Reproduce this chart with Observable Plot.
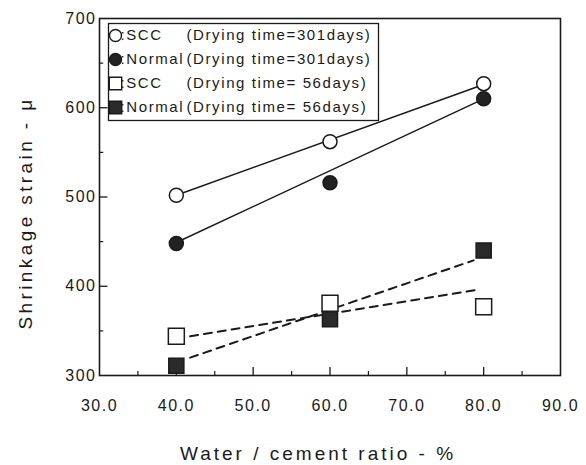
<!DOCTYPE html>
<html><head><meta charset="utf-8">
<script src="https://cdn.jsdelivr.net/npm/d3@7"></script>
<script src="https://cdn.jsdelivr.net/npm/@observablehq/plot@0.6"></script>
<style>
body{margin:0;background:#fff}
#chart{width:586px;height:465px}
</style>
</head><body><div id="chart"></div>
<script>
// Water/cement ratio (%)
const wcRatio = [40, 60, 80];
// Shrinkage strain (μ)
const scc301 = [502, 562, 627];
const normal301 = [448, 516, 610];
const scc56 = [344, 381, 377];
const normal56 = [311, 363, 440];
// fitted trend lines: [x, y] end points
const scc301Fit = [[40, 502], [80, 626]];
const normal301Fit = [[40, 449], [80, 610]];
const scc56Fit = [[41.8, 344], [79.2, 396]];
const normal56Fit = [[41.8, 320], [78.7, 429]];
// ticks
const xTicks = [30, 40, 50, 60, 70, 80, 90];
const xMinor = [35, 45, 55, 65, 75, 85];
const yTicks = [300, 400, 500, 600, 700];
const yMinor = [350, 450, 550, 650];
// legend
const legendLabels = [":SCC", ":Normal", ":SCC", ":Normal"];
const legendNotes = ["(Drying time=301days)", "(Drying time=301days)", "(Drying time= 56days)", "(Drying time= 56days)"];
const xTitle = "Water / cement ratio - %";
const yTitle = "Shrinkage strain - μ";

const ink = "#1a1a1a";
const series = [
  {vals: scc301, fit: scc301Fit, symbol: "circle", fill: "white", r: 7, lr: 6, dash: null},
  {vals: normal301, fit: normal301Fit, symbol: "circle", fill: "#222", r: 7, lr: 6, dash: null},
  {vals: scc56, fit: scc56Fit, symbol: "square", fill: "white", r: 9, lr: 7, dash: "8,6"},
  {vals: normal56, fit: normal56Fit, symbol: "square", fill: "#2a2a2a", r: 8.5, lr: 7, dash: "8,6"}
];

const marks = [];
// inward ticks
marks.push(Plot.ruleX(xTicks.slice(1, -1), {x: d => d, y1: 300, y2: 309, stroke: ink, strokeWidth: 1.3}));
marks.push(Plot.ruleX(xMinor, {x: d => d, y1: 300, y2: 304.5, stroke: ink, strokeWidth: 1.2}));
marks.push(Plot.ruleY(yTicks.slice(1, -1), {y: d => d, x1: 30, x2: 31.1, stroke: ink, strokeWidth: 1.3}));
marks.push(Plot.ruleY(yMinor, {y: d => d, x1: 30, x2: 30.55, stroke: ink, strokeWidth: 1.2}));

// trend lines
series.forEach(s => {
  marks.push(Plot.line(s.fit, {x: d => d[0], y: d => d[1], stroke: ink,
    strokeWidth: s.dash ? 2 : 1.5, strokeDasharray: s.dash}));
});
// points
series.forEach(s => {
  const pts = wcRatio.map((x, i) => ({x, y: s.vals[i]}));
  marks.push(Plot.dot(pts, {x: "x", y: "y", symbol: s.symbol, r: s.r, fill: s.fill, stroke: ink, strokeWidth: 1.5}));
});

// frame
marks.push(Plot.frame({stroke: ink, strokeWidth: 1.6}));
// legend box
marks.push(Plot.frame({stroke: ink, strokeWidth: 1.3, fill: "white", insetLeft: 9, insetTop: 5, insetRight: 182, insetBottom: 255}));
series.forEach((s, i) => {
  const dy = 17 + 24 * i;
  marks.push(Plot.dot([0], {frameAnchor: "top-left", dx: 16, dy, symbol: s.symbol, r: s.lr, fill: s.fill, stroke: ink, strokeWidth: 1.4}));
  marks.push(Plot.text([legendLabels[i]], {frameAnchor: "top-left", dx: 21, dy, text: d => d, textAnchor: "start", lineAnchor: "middle", fontSize: 15, fill: ink}));
  marks.push(Plot.text([legendNotes[i]], {frameAnchor: "top-left", dx: 87, dy, text: d => d, textAnchor: "start", lineAnchor: "middle", fontSize: 15, fill: ink}));
});

// axes (labels only)
marks.push(Plot.axisX({ticks: xTicks, tickSize: 0, tickPadding: 24, tickFormat: d => d.toFixed(1), fontSize: 16, label: null, fill: ink}));
marks.push(Plot.axisY({ticks: yTicks, tickSize: 0, tickPadding: 3, tickFormat: d => String(d), fontSize: 16, label: null, fill: ink}));
// axis titles
marks.push(Plot.text([xTitle], {frameAnchor: "bottom", dy: 78, dx: -12, text: d => d, textAnchor: "middle", lineAnchor: "middle", fontSize: 19, fill: ink}));
marks.push(Plot.text([yTitle], {frameAnchor: "left", dx: -74, dy: 16, rotate: -90, text: d => d, textAnchor: "middle", lineAnchor: "middle", fontSize: 19, fill: ink}));

const chart = Plot.plot({
  width: 586, height: 465,
  marginLeft: 99, marginRight: 26, marginTop: 18, marginBottom: 90,
  x: {domain: [30, 90]},
  y: {domain: [300, 700]},
  style: {fontFamily: "'Liberation Sans', Arial, sans-serif", background: "white", color: ink},
  marks
});
document.getElementById("chart").appendChild(chart);
// letter spacing to mimic the wide, scanned typeface
const tickTexts = new Set([...xTicks.map(d => d.toFixed(1)), ...yTicks.map(String)]);
d3.select(chart).selectAll("text").each(function() {
  const t = this.textContent;
  let ls = null;
  if (t === xTitle) ls = "3px";
  else if (t === yTitle) ls = "3.4px";
  else if (legendLabels.includes(t) || legendNotes.includes(t)) ls = "1.6px";
  else if (tickTexts.has(t)) ls = "1.5px";
  if (ls) this.style.letterSpacing = ls;
});
</script>
</body></html>
